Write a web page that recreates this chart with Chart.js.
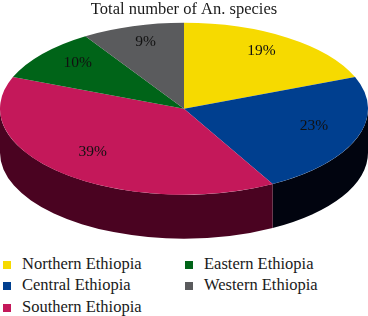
<!DOCTYPE html>
<html lang="en">
<head>
    <meta charset="UTF-8">
    <title>Total number of An. species</title>
    <script src="https://cdn.jsdelivr.net/npm/chart.js"></script>
    <style>
        * {
            margin: 0;
            padding: 0;
            box-sizing: border-box;
        }

        body {
            background: #fff;
            width: 368px;
            height: 316px;
            overflow: hidden;
            font-family: 'Liberation Serif', 'DejaVu Serif', serif;
        }

        .wrap {
            position: relative;
            width: 368px;
            height: 316px;
        }

        #pieChart {
            position: absolute;
            left: 0;
            top: 0;
        }

        .legend {
            position: absolute;
            left: 3px;
            top: 253px;
            display: grid;
            grid-auto-flow: column;
            grid-template-rows: repeat(3, 21.5px);
            grid-template-columns: 182px 180px;
            color: #1a1a1a;
            font-size: 16.5px;
        }

        .legend-item {
            display: flex;
            align-items: center;
            white-space: nowrap;
        }

        .legend-box {
            width: 8px;
            height: 8px;
            margin-right: 11px;
            margin-top: 2px;
        }
    </style>
</head>
<body>
    <div class="wrap">
        <canvas id="pieChart" width="368" height="245"></canvas>
        <div class="legend" id="legend"></div>
    </div>

    <script>
        // data
        const regions = ['Northern Ethiopia', 'Central Ethiopia', 'Southern Ethiopia', 'Eastern Ethiopia', 'Western Ethiopia'];
        const shares = [19, 23, 39, 10, 9];
        const topColors = ['#f6da00', '#003f8f', '#c4185a', '#006418', '#5a5b5d'];
        const sideColors = ['#6b5f00', '#01040f', '#4a0321', '#002a0a', '#2a2b2c'];

        const TILT = 0.467;   // vertical squash of the pie
        const DEPTH = 44;     // thickness of the 3d rim
        const LABEL_R = 0.75;
        const LABEL_LIFT = 5;

        function pieGeom(chart) {
            const a = chart.chartArea;
            const rx = (a.right - a.left) / 2;
            const ry = rx * TILT;
            return { cx: (a.left + a.right) / 2, cy: a.top + ry + 1, rx: rx, ry: ry };
        }

        // squash the round pie into an ellipse and add a rim under it
        const pie3d = {
            id: 'pie3d',
            beforeDatasetsDraw(chart) {
                const ctx = chart.ctx;
                const g = pieGeom(chart);
                const arcs = chart.getDatasetMeta(0).data;

                arcs.forEach((arc, i) => {
                    [0, Math.PI * 2].forEach(off => {
                        const lo = Math.max(arc.startAngle, off);
                        const hi = Math.min(arc.endAngle, off + Math.PI);
                        if (hi <= lo) return;
                        ctx.beginPath();
                        ctx.ellipse(g.cx, g.cy, g.rx, g.ry, 0, lo, hi);
                        ctx.ellipse(g.cx, g.cy + DEPTH, g.rx, g.ry, 0, hi, lo, true);
                        ctx.closePath();
                        ctx.fillStyle = sideColors[i];
                        ctx.fill();
                    });
                });

                const a0 = arcs[0];
                const r = a0.outerRadius;
                ctx.save();
                ctx.translate(g.cx, g.cy);
                ctx.scale(g.rx / r, g.ry / r);
                ctx.translate(-a0.x, -a0.y);
            },
            afterDatasetsDraw(chart) {
                const ctx = chart.ctx;
                ctx.restore();

                const g = pieGeom(chart);
                const arcs = chart.getDatasetMeta(0).data;
                ctx.save();
                ctx.font = '15.5px "Liberation Serif", serif';
                ctx.fillStyle = '#111';
                ctx.textAlign = 'center';
                ctx.textBaseline = 'middle';
                arcs.forEach((arc, i) => {
                    const m = (arc.startAngle + arc.endAngle) / 2;
                    const x = g.cx + g.rx * LABEL_R * Math.cos(m);
                    const y = g.cy + g.ry * LABEL_R * Math.sin(m) - LABEL_LIFT;
                    ctx.fillText(shares[i] + '%', x, y);
                });
                ctx.restore();
            }
        };

        new Chart(document.getElementById('pieChart'), {
            type: 'pie',
            data: {
                labels: regions,
                datasets: [{
                    data: shares,
                    backgroundColor: topColors,
                    borderWidth: 0,
                    clip: false
                }]
            },
            options: {
                responsive: false,
                animation: false,
                layout: { padding: 0 },
                plugins: {
                    legend: { display: false },
                    tooltip: { enabled: false },
                    title: {
                        display: true,
                        text: 'Total number of An. species',
                        color: '#1a1a1a',
                        font: { family: '"Liberation Serif", serif', size: 16.5, weight: 'normal' },
                        padding: { top: 0, bottom: 2 }
                    }
                }
            },
            plugins: [pie3d]
        });

        // legend, two columns filled top to bottom
        const legend = document.getElementById('legend');
        regions.forEach((name, i) => {
            const item = document.createElement('div');
            item.className = 'legend-item';
            const box = document.createElement('span');
            box.className = 'legend-box';
            box.style.background = topColors[i];
            const txt = document.createElement('span');
            txt.textContent = name;
            item.appendChild(box);
            item.appendChild(txt);
            legend.appendChild(item);
        });
    </script>
</body>
</html>
